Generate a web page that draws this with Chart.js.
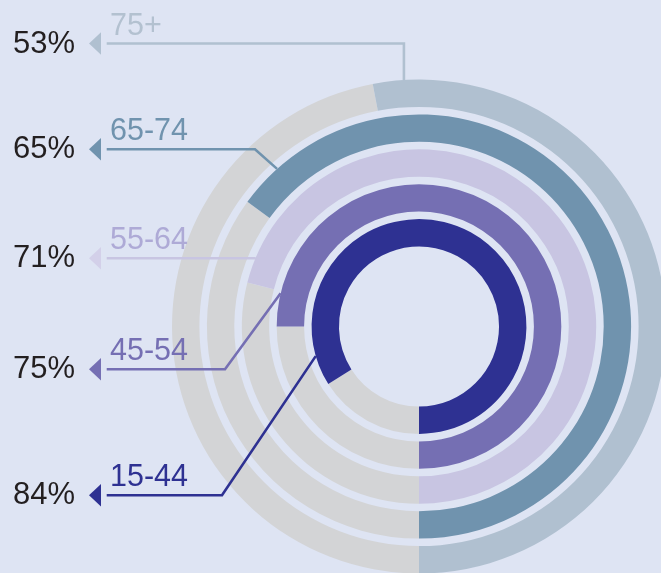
<!DOCTYPE html>
<html>
<head>
<meta charset="utf-8">
<script src="https://cdn.jsdelivr.net/npm/chart.js@4"></script>
<style>
  html, body { margin: 0; padding: 0; background: #dee4f3; overflow: hidden; }
  .wrap { position: relative; width: 661px; height: 573px; }
</style>
</head>
<body>
<div class="wrap"><canvas id="myChart"></canvas></div>
<script>
'use strict';

// Age groups, outer ring first
let categories = ['75+', '65-74', '55-64', '45-54', '15-44'];
// Share for each age group (%)
let shares = [53, 65, 71, 75, 84];

// Colours per ring
let ringColors = ['#b0c0d0', '#7093ae', '#c8c5e2', '#756fb3', '#2e3192'];
let textColors = ['#b3c1d0', '#7093ae', '#aeaad6', '#756fb3', '#2e3192'];
let arrowColors = ['#b0c0d0', '#7093ae', '#d3d0e9', '#756fb3', '#2e3192'];
let restColor = '#d3d4d6';

// Where the callout rows sit and where their lines hit the rings
let rowY = [43.5, 149.3, 258.3, 369.3, 495.3];
let anchorDeg = [-3.5, -42, -67.2, -76.5, -106];  // from 12 o'clock, negative = left
let elbowX = [null, 255, null, 225, 222];         // null = go straight to anchor x

// Build rings with transparent spacer rings between them
let datasets = [];
for (let i = 0; i < categories.length; i++) {
  datasets.push({
    label: categories[i],
    data: [100 - shares[i], shares[i]],
    backgroundColor: [restColor, ringColors[i]],
    borderWidth: 0,
    weight: 27.4
  });
  if (i < categories.length - 1) {
    datasets.push({
      label: 'gap',
      data: [100],
      backgroundColor: ['rgba(0,0,0,0)'],
      borderWidth: 0,
      weight: 7.5
    });
  }
}

// Draw the percent labels, arrows and connector lines
let callouts = {
  id: 'callouts',
  afterDatasetsDraw(chart) {
    let ctx = chart.ctx;
    ctx.save();
    for (let i = 0; i < categories.length; i++) {
      let arc = chart.getDatasetMeta(i * 2).data[1];
      let a = anchorDeg[i] * Math.PI / 180;
      let ax = arc.x + arc.outerRadius * Math.sin(a);
      let ay = arc.y - arc.outerRadius * Math.cos(a);
      let y = rowY[i];

      // connector
      let ex = elbowX[i] === null ? ax : elbowX[i];
      ctx.beginPath();
      ctx.moveTo(106.7, y);
      ctx.lineTo(ex, y);
      ctx.lineTo(ax, ay);
      ctx.strokeStyle = ringColors[i];
      ctx.lineWidth = 2.6;
      ctx.lineJoin = 'miter';
      ctx.stroke();

      // arrow head
      ctx.beginPath();
      ctx.moveTo(89, y);
      ctx.lineTo(101, y - 11.2);
      ctx.lineTo(101, y + 11.2);
      ctx.closePath();
      ctx.fillStyle = arrowColors[i];
      ctx.fill();

      // category label
      ctx.font = '30.5px "Liberation Sans", Arial, sans-serif';
      ctx.textAlign = 'left';
      ctx.textBaseline = 'alphabetic';
      ctx.fillStyle = textColors[i];
      ctx.fillText(categories[i], 110, y - 9);

      // percent
      ctx.font = '31px "Liberation Sans", Arial, sans-serif';
      ctx.fillStyle = '#231f20';
      ctx.fillText(shares[i] + '%', 13, y + 9);
    }
    ctx.restore();
  }
};

const ctx = document.getElementById('myChart').getContext('2d');

let options = {
  type: 'doughnut',
  data: {
    labels: ['rest', 'share'],
    datasets: datasets
  },
  options: {
    responsive: true,
    maintainAspectRatio: false,
    animation: false,
    events: [],
    rotation: 180,
    circumference: 360,
    radius: 247,
    cutout: '32.4%',
    layout: { padding: { left: 177, top: 80, right: 0, bottom: 0 } },
    plugins: {
      legend: { display: false },
      tooltip: { enabled: false }
    }
  },
  plugins: [callouts]
};

const myChart = new Chart(ctx, options);
</script>
</body>
</html>
